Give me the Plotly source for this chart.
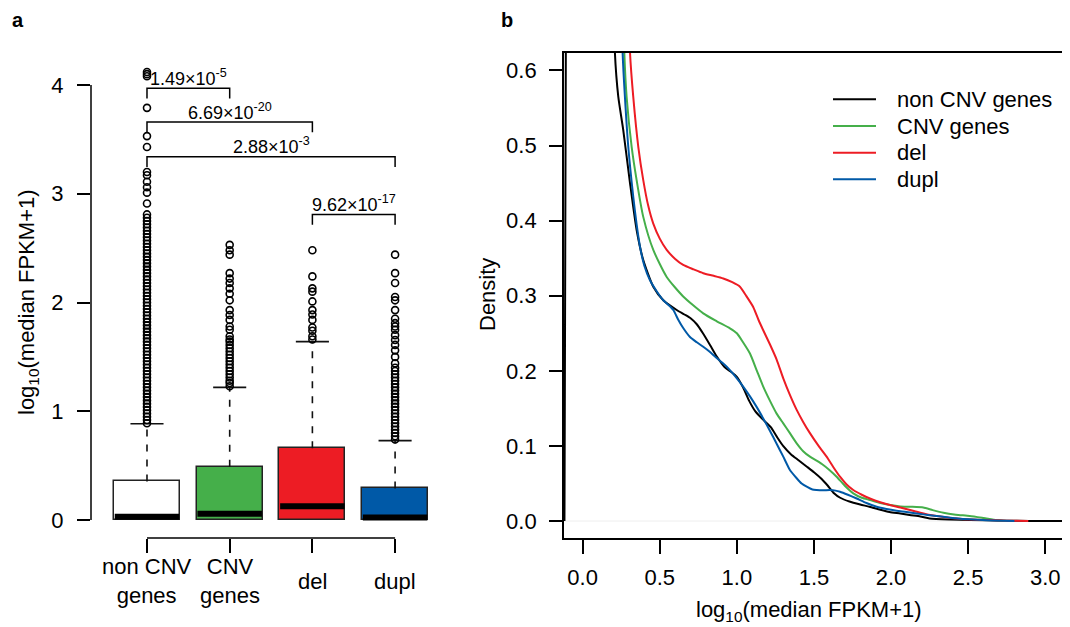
import plotly.graph_objects as go

# ---------------- data: panel a (boxplot summary) ----------------
categories = ["non CNV genes", "CNV genes", "del", "dupl"]
box_labels = ["non CNV<br>genes", "CNV<br>genes", "del", "dupl"]
box_colors = ["#FFFFFF", "#45AF4A", "#ED1C24", "#0059A7"]
q1 = [0.0, 0.0, 0.0, 0.0]
median = [0.031, 0.057, 0.126, 0.024]
q3 = [0.355, 0.49, 0.66, 0.29]
upper_whisker = [0.885, 1.22, 1.64, 0.73]

out_noncnv = [0.89, 0.92, 0.95, 0.98, 1.01, 1.04, 1.07, 1.10, 1.13, 1.16, 1.19, 1.22,
              1.25, 1.28, 1.31, 1.34, 1.37, 1.40, 1.43, 1.46, 1.49, 1.52, 1.55, 1.58,
              1.61, 1.64, 1.67, 1.70, 1.73, 1.76, 1.79, 1.82, 1.85, 1.88, 1.91, 1.94,
              1.97, 2.00, 2.03, 2.06, 2.09, 2.12, 2.15, 2.18, 2.21, 2.24, 2.27, 2.30,
              2.33, 2.36, 2.39, 2.42, 2.45, 2.48, 2.51, 2.54, 2.57, 2.60, 2.63, 2.66,
              2.69, 2.72, 2.75, 2.78, 2.81, 2.91, 3.01, 3.06, 3.11, 3.17, 3.20, 3.43,
              3.53, 3.79, 4.08, 4.10, 4.12]
out_cnv = [1.23, 1.26, 1.28, 1.31, 1.34, 1.37, 1.40, 1.43, 1.46, 1.49, 1.52, 1.55,
           1.58, 1.61, 1.64, 1.66, 1.69, 1.75, 1.78, 1.84, 1.885, 1.93, 2.02, 2.08,
           2.13, 2.18, 2.22, 2.27, 2.44, 2.48, 2.53]
out_del = [1.66, 1.69, 1.74, 1.77, 1.84, 1.89, 1.93, 2.01, 2.10, 2.13, 2.24, 2.48]
out_dupl = [0.74, 0.77, 0.80, 0.83, 0.86, 0.89, 0.92, 0.95, 0.98, 1.01, 1.04, 1.07,
            1.10, 1.13, 1.16, 1.19, 1.22, 1.25, 1.28, 1.31, 1.34, 1.37, 1.40, 1.44,
            1.50, 1.56, 1.61, 1.655, 1.70, 1.75, 1.78, 1.81, 1.85, 1.93, 2.02, 2.05,
            2.18, 2.27, 2.44]
outliers = [out_noncnv, out_cnv, out_del, out_dupl]

# comparisons: (group i, group j, bracket height, p-value label)
cmp_left = [1, 1, 1, 3]
cmp_right = [2, 3, 4, 4]
cmp_height = [3.97, 3.66, 3.34, 2.81]
cmp_label = ["1.49×10<sup>-5</sup>", "6.69×10<sup>-20</sup>",
             "2.88×10<sup>-3</sup>", "9.62×10<sup>-17</sup>"]

# ---------------- data: panel b (density curves) ----------------
dens_names = ["non CNV genes", "CNV genes", "del", "dupl"]
dens_colors = ["#000000", "#45AF4A", "#ED1C24", "#0059A7"]

x_noncnv = [-0.118, -0.108, 0.0, 0.209, 0.231, 0.263, 0.307, 0.35, 0.393, 0.458, 0.523,
            0.61, 0.66, 0.70, 0.74, 0.78, 0.83, 0.87, 0.92, 0.96, 1.00, 1.04, 1.08,
            1.12, 1.17, 1.22, 1.26, 1.30, 1.35, 1.40, 1.45, 1.50, 1.55, 1.59, 1.63,
            1.67, 1.73, 1.80, 1.86, 1.93, 1.99, 2.06, 2.12, 2.19, 2.25, 2.38, 2.51,
            2.73, 2.90, 3.12]
y_noncnv = [0.0, 0.7, 3.0, 0.624, 0.565, 0.521, 0.45, 0.3875, 0.3475, 0.312, 0.294,
            0.281, 0.275, 0.270, 0.262, 0.250, 0.233, 0.219, 0.205, 0.199, 0.192, 0.178,
            0.160, 0.146, 0.135, 0.125, 0.112, 0.100, 0.089, 0.081, 0.073, 0.065, 0.056,
            0.047, 0.037, 0.031, 0.026, 0.022, 0.019, 0.015, 0.012, 0.010, 0.008, 0.006,
            0.0035, 0.002, 0.0013, 0.0005, 0.0002, 0.0]

x_cnv = [-0.108, 0.0, 0.27, 0.285, 0.318, 0.35, 0.393, 0.458, 0.545, 0.652,
         0.782, 0.87, 0.955, 1.0, 1.04, 1.085, 1.13, 1.171, 1.215, 1.258, 1.301, 1.344,
         1.388, 1.43, 1.474, 1.52, 1.56, 1.60, 1.647, 1.70, 1.755, 1.81, 1.863, 1.93,
         1.993, 2.06, 2.123, 2.209, 2.27, 2.34, 2.42, 2.51, 2.60, 2.685, 2.75]
y_cnv = [0.7, 3.0, 0.624, 0.565, 0.498, 0.454, 0.405, 0.361, 0.325, 0.299,
         0.2765, 0.266, 0.2566, 0.25, 0.238, 0.223, 0.20, 0.179, 0.16, 0.143, 0.13,
         0.117, 0.1035, 0.093, 0.0857, 0.080, 0.0746, 0.068, 0.059, 0.047, 0.0369,
         0.031, 0.028, 0.024, 0.0213, 0.0195, 0.019, 0.018, 0.0145, 0.011, 0.0085,
         0.0067, 0.004, 0.0013, 0.0]

x_del = [-0.108, 0.0, 0.307, 0.328, 0.361, 0.393, 0.425, 0.458, 0.50, 0.545,
         0.60, 0.652, 0.72, 0.782, 0.85, 0.912, 0.97, 1.02, 1.06, 1.106, 1.14, 1.171,
         1.215, 1.258, 1.301, 1.344, 1.388, 1.43, 1.474, 1.53, 1.582, 1.625, 1.669,
         1.71, 1.755, 1.81, 1.863, 1.93, 1.993, 2.06, 2.123, 2.19, 2.253, 2.34, 2.425,
         2.53, 2.64, 2.75, 2.89]
y_del = [0.7, 3.0, 0.624, 0.565, 0.498, 0.454, 0.42, 0.396, 0.376, 0.361,
         0.349, 0.341, 0.335, 0.330, 0.3265, 0.323, 0.318, 0.312, 0.30, 0.285, 0.268,
         0.254, 0.235, 0.215, 0.19, 0.168, 0.148, 0.132, 0.117, 0.100, 0.0857, 0.072,
         0.059, 0.049, 0.0413, 0.035, 0.030, 0.025, 0.0213, 0.018, 0.0146, 0.011,
         0.008, 0.0055, 0.0035, 0.002, 0.0013, 0.0005, 0.0]

x_dupl = [-0.108, 0.0, 0.259, 0.274, 0.296, 0.328, 0.35, 0.372, 0.40, 0.436,
          0.48, 0.523, 0.555, 0.588, 0.62, 0.652, 0.696, 0.74, 0.782, 0.82, 0.869,
          0.91, 0.955, 1.0, 1.041, 1.085, 1.128, 1.17, 1.215, 1.258, 1.301, 1.344,
          1.388, 1.42, 1.453, 1.49, 1.517, 1.56, 1.604, 1.64, 1.669, 1.72, 1.777, 1.84,
          1.907, 1.97, 2.036, 2.10, 2.166, 2.25, 2.34, 2.42, 2.51, 2.62, 2.73, 2.80]
y_dupl = [0.7, 3.0, 0.624, 0.565, 0.498, 0.432, 0.395, 0.365, 0.34, 0.321,
          0.306, 0.294, 0.288, 0.281, 0.268, 0.257, 0.245, 0.238, 0.232, 0.226, 0.217,
          0.21, 0.201, 0.19, 0.179, 0.166, 0.152, 0.137, 0.12, 0.103, 0.0857, 0.068,
          0.057, 0.05, 0.0457, 0.042, 0.0413, 0.041, 0.0413, 0.0405, 0.039, 0.035,
          0.030, 0.024, 0.019, 0.016, 0.0137, 0.012, 0.010, 0.0078, 0.0057, 0.0038,
          0.0023, 0.0012, 0.0005, 0.0]

dens_x = [x_noncnv, x_cnv, x_del, x_dupl]
dens_y = [y_noncnv, y_cnv, y_del, y_dupl]

# ---------------- styles ----------------
FONT = "Liberation Sans, Arial, sans-serif"
W, H = 1070, 627
OFF = 8  # page body margin of the html page
BOX_W = 0.8
CAP_W = 0.4
pos = [i + 1 for i in range(len(categories))]


def px_x(v):
    return (v - OFF) / W


def px_y(v):
    return 1 - (v - OFF) / H


fig = go.Figure()

# boxes
fig.add_trace(go.Bar(
    x=pos, y=[b - a for a, b in zip(q1, q3)], base=q1, width=BOX_W,
    marker=dict(color=box_colors, line=dict(color="#222222", width=1.5)),
    xaxis="x", yaxis="y", showlegend=False, hoverinfo="skip"))

# dashed whiskers
wx, wy = [], []
for p, a, b in zip(pos, q3, upper_whisker):
    wx += [p, p, None]
    wy += [a, b, None]
fig.add_trace(go.Scatter(x=wx, y=wy, mode="lines",
                         line=dict(color="#111111", width=1.6, dash="7px,8px"),
                         xaxis="x", yaxis="y", showlegend=False, hoverinfo="skip"))
# whisker caps
cx, cy = [], []
for p, b in zip(pos, upper_whisker):
    cx += [p - CAP_W / 2, p + CAP_W / 2, None]
    cy += [b, b, None]
fig.add_trace(go.Scatter(x=cx, y=cy, mode="lines", line=dict(color="#111111", width=1.6),
                         xaxis="x", yaxis="y", showlegend=False, hoverinfo="skip"))
# medians
mx, my = [], []
for p, m in zip(pos, median):
    mx += [p - BOX_W / 2 + 0.01, p + BOX_W / 2 - 0.01, None]
    my += [m, m, None]
fig.add_trace(go.Scatter(x=mx, y=my, mode="lines", line=dict(color="#000000", width=6),
                         xaxis="x", yaxis="y", showlegend=False, hoverinfo="skip"))
# outliers
for p, vals in zip(pos, outliers):
    fig.add_trace(go.Scatter(
        x=[p] * len(vals), y=vals, mode="markers",
        marker=dict(symbol="circle-open", size=7, color="#000000", line=dict(width=1.6)),
        xaxis="x", yaxis="y", showlegend=False, cliponaxis=False, hoverinfo="skip"))

# comparison brackets
LEG = 0.095
for a, b, h, lab in zip(cmp_left, cmp_right, cmp_height, cmp_label):
    fig.add_trace(go.Scatter(
        x=[a, a, b, b], y=[h - LEG, h, h, h - LEG], mode="lines",
        line=dict(color="#000000", width=1.5),
        xaxis="x", yaxis="y", showlegend=False, hoverinfo="skip", cliponaxis=False))
    fig.add_annotation(x=(a + b) / 2, y=h + 0.1, xref="x", yref="y", text=lab,
                       showarrow=False, xanchor="center", yanchor="middle",
                       font=dict(family=FONT, size=18, color="#000000"))

# density curves
for xs, ys, nm, col in zip(dens_x, dens_y, dens_names, dens_colors):
    fig.add_trace(go.Scatter(x=xs, y=ys, mode="lines", name=nm, showlegend=False,
                             line=dict(color=col, width=2, shape="spline", smoothing=0.6),
                             xaxis="x2", yaxis="y2"))

# ---------------- layout ----------------
axis_font = dict(family=FONT, size=22, color="#000000")

fig.update_layout(
    width=W, height=H, margin=dict(l=0, r=0, t=0, b=0),
    paper_bgcolor="white", plot_bgcolor="white",
    font=dict(family=FONT, size=22, color="#000000"),
    bargap=0, showlegend=False,
    xaxis=dict(domain=[px_x(91), px_x(440)], range=[0.323, 4.543],
               tickvals=pos, showticklabels=False, ticks="outside", ticklen=14,
               tickwidth=1.5, tickcolor="#000000", showgrid=False, zeroline=False,
               showline=False),
    yaxis=dict(domain=[px_y(538), px_y(60)], range=[-0.1655, 4.23],
               tickvals=[0, 1, 2, 3, 4], ticks="outside", ticklen=13, tickwidth=1.5,
               tickcolor="#000000", tickfont=axis_font, showgrid=False, zeroline=False,
               showline=False, ticklabelstandoff=9),
    xaxis2=dict(domain=[px_x(564), px_x(1063.3)], range=[-0.121, 3.117],
                tickvals=[0, 0.5, 1, 1.5, 2, 2.5, 3], tickformat=".1f",
                ticks="outside", ticklen=14, tickwidth=1.5, tickcolor="#000000",
                tickfont=axis_font, showline=True, mirror=True, linecolor="#000000",
                linewidth=1.8, showgrid=False, zeroline=False, anchor="y2",
                ticklabelstandoff=4),
    yaxis2=dict(domain=[px_y(538.3), px_y(52.7)], range=[-0.023, 0.6236],
                tickvals=[0, 0.1, 0.2, 0.3, 0.4, 0.5, 0.6], tickformat=".1f",
                ticks="outside", ticklen=13, tickwidth=1.5, tickcolor="#000000",
                tickfont=axis_font, showline=True, mirror=True, linecolor="#000000",
                linewidth=1.8, showgrid=False, zeroline=False, anchor="x2",
                ticklabelstandoff=8),
)

# axis lines of panel a (R style: from first to last tick)
fig.add_shape(type="line", xref="x domain", yref="y", x0=0, x1=0, y0=0, y1=4,
              line=dict(color="#000000", width=1.5))
fig.add_shape(type="line", xref="x", yref="y domain", x0=pos[0], x1=pos[-1], y0=0, y1=0,
              line=dict(color="#000000", width=1.5))
# faint zero line in panel b
fig.add_shape(type="line", xref="x2 domain", yref="y2", x0=0, x1=1, y0=0, y1=0,
              line=dict(color="#EEEEEE", width=1), layer="below")

# legend of panel b (R-style key: line sample + label)
leg_rows = [99.3, 126.0, 152.7, 179.3]
for row, nm, col in zip(leg_rows, dens_names, dens_colors):
    fig.add_shape(type="line", xref="paper", yref="paper",
                  x0=px_x(833), x1=px_x(876), y0=px_y(row), y1=px_y(row),
                  line=dict(color=col, width=2))
    fig.add_annotation(x=px_x(895), y=px_y(row), xref="paper", yref="paper", text=nm,
                       showarrow=False, xanchor="left", yanchor="middle", font=axis_font)

# category labels
for p, lab in zip(pos, box_labels):
    fig.add_annotation(x=p, y=px_y(581), xref="x", yref="paper", text=lab,
                       showarrow=False, xanchor="center", yanchor="middle", font=axis_font)

# axis titles
fig.add_annotation(x=px_x(28), y=px_y(302), xref="paper", yref="paper",
                   text="log<sub>10</sub>(median FPKM+1)", textangle=-90,
                   showarrow=False, xanchor="center", yanchor="middle", font=axis_font)
fig.add_annotation(x=px_x(487), y=px_y(295), xref="paper", yref="paper",
                   text="Density", textangle=-90, showarrow=False,
                   xanchor="center", yanchor="middle", font=axis_font)
fig.add_annotation(x=px_x(809), y=px_y(611), xref="paper", yref="paper",
                   text="log<sub>10</sub>(median FPKM+1)", showarrow=False,
                   xanchor="center", yanchor="middle", font=axis_font)

# panel letters
fig.add_annotation(x=px_x(18), y=px_y(20), xref="paper", yref="paper", text="<b>a</b>",
                   showarrow=False, xanchor="center", yanchor="middle",
                   font=dict(family=FONT, size=20, color="#000000"))
fig.add_annotation(x=px_x(507), y=px_y(20), xref="paper", yref="paper", text="<b>b</b>",
                   showarrow=False, xanchor="center", yanchor="middle",
                   font=dict(family=FONT, size=20, color="#000000"))

fig.write_html("out.html")
